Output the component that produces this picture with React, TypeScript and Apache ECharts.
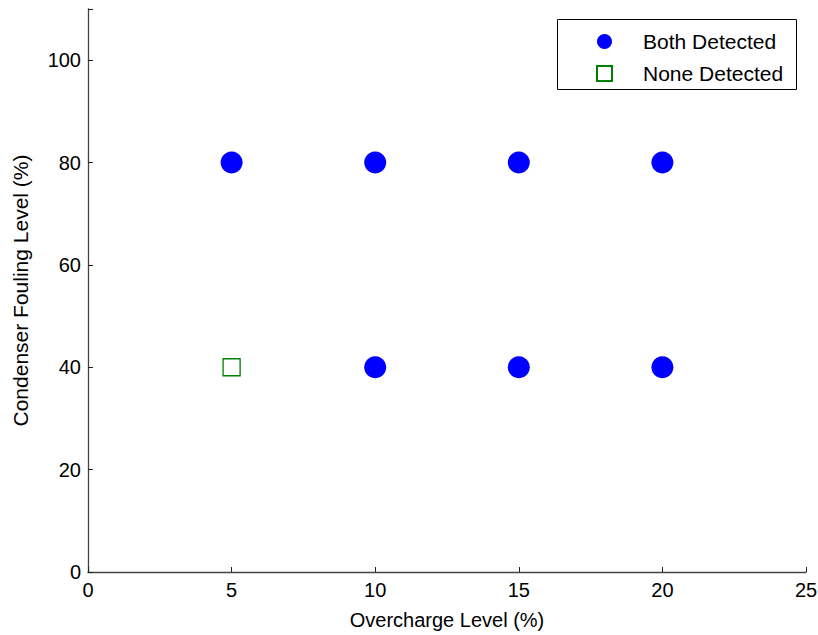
import React, { useEffect, useRef } from "react";
import * as echarts from "echarts";

// Overcharge level (%) / condenser fouling level (%) combinations
const bothDetected: [number, number][] = [
  [5, 80],
  [10, 80],
  [15, 80],
  [20, 80],
  [10, 40],
  [15, 40],
  [20, 40],
];
const noneDetected: [number, number][] = [[5, 40]];

const xTicks = [0, 5, 10, 15, 20, 25];
const yTicks = [0, 20, 40, 60, 80, 100];

const FONT = "'Liberation Sans', Arial, Helvetica, sans-serif";

export default function App() {
  const ref = useRef<HTMLDivElement>(null);

  useEffect(() => {
    if (!ref.current) return;
    const chart = echarts.init(ref.current, undefined, { renderer: "svg" });
    chart.setOption({
      animation: false,
      backgroundColor: "#fff",
      textStyle: { fontFamily: FONT },
      grid: {
        left: 88,
        top: 9,
        right: 12,
        bottom: 63,
        containLabel: false,
        outerBoundsMode: "none",
      },
      xAxis: {
        type: "value",
        min: xTicks[0],
        max: xTicks[xTicks.length - 1],
        interval: 5,
        name: "Overcharge Level (%)",
        nameLocation: "middle",
        nameGap: 38,
        nameTextStyle: { color: "#000", fontSize: 20, fontFamily: FONT },
        axisLine: { lineStyle: { color: "#444", width: 1.3 } },
        axisTick: { inside: true, length: 5, lineStyle: { color: "#222" } },
        axisLabel: { color: "#000", fontSize: 20, fontFamily: FONT, margin: 8 },
        splitLine: { show: false },
      },
      yAxis: {
        type: "value",
        min: yTicks[0],
        max: 110,
        interval: 20,
        name: "Condenser Fouling Level (%)",
        nameLocation: "middle",
        nameGap: 57,
        nameTextStyle: { color: "#000", fontSize: 21, fontFamily: FONT },
        axisLine: { lineStyle: { color: "#444", width: 1.3 } },
        axisTick: { inside: true, length: 5, lineStyle: { color: "#222" } },
        axisLabel: {
          color: "#000",
          fontSize: 20,
          fontFamily: FONT,
          margin: 7,
          formatter: (v: number) => (yTicks.includes(v) ? String(v) : ""),
        },
        splitLine: { show: false },
      },
      legend: {
        orient: "vertical",
        left: 591,
        top: 26,
        itemWidth: 15,
        itemHeight: 15,
        itemGap: 11,
        symbolKeepAspect: true,
        formatter: "{pad|}{name}",
        textStyle: {
          color: "#000",
          fontSize: 21,
          fontFamily: FONT,
          rich: { pad: { width: 26 } },
        },
        data: ["Both Detected", "None Detected"],
      },
      graphic: [
        {
          type: "rect",
          shape: { x: 557.5, y: 19.5, width: 239, height: 70 },
          style: { fill: "none", stroke: "#000", lineWidth: 1 },
          silent: true,
        },
      ],
      series: [
        {
          name: "Both Detected",
          type: "scatter",
          symbol: "circle",
          symbolSize: 22,
          itemStyle: { color: "#0000ff", opacity: 1 },
          data: bothDetected,
        },
        {
          name: "None Detected",
          type: "scatter",
          symbol: "rect",
          symbolSize: 17,
          itemStyle: { color: "#fff", borderColor: "#008000", borderWidth: 1.3, opacity: 1 },
          data: noneDetected,
        },
      ],
    });
    return () => chart.dispose();
  }, []);

  return <div ref={ref} style={{ width: 818, height: 635, position: "absolute", left: 0, top: 0 }} />;
}
